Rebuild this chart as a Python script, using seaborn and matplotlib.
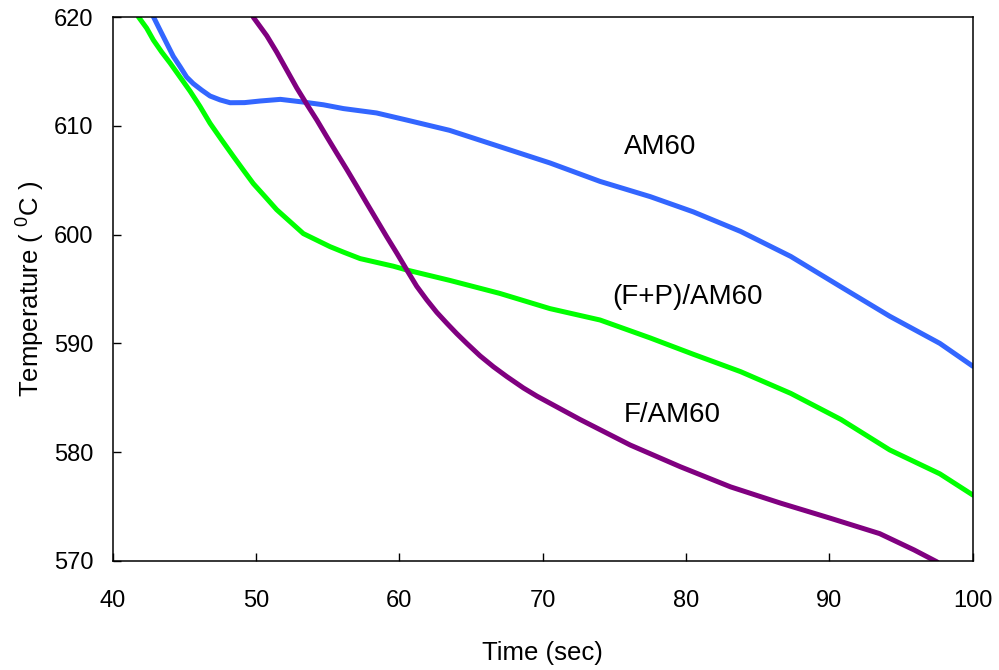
import seaborn as sns
import matplotlib.pyplot as plt
import pandas as pd

# AM60 curve (time in s, temperature in C)
am60_t = [42.84, 43.3, 43.77, 44.23, 44.7, 45.16, 45.62, 46.21, 46.79, 47.49, 48.19,
          49.2, 50.3, 51.7, 53.3, 54.7, 56.1, 58.4, 60.5,
          63.5, 67.0, 70.5, 74.0, 77.5, 80.5, 83.8, 87.3, 90.8, 94.2, 97.7, 100.0]
am60_T = [620.05, 618.83, 617.6, 616.4, 615.46, 614.5, 613.9, 613.3, 612.76, 612.4, 612.14,
          612.15, 612.3, 612.45, 612.2, 611.95, 611.6, 611.2, 610.55,
          609.6, 608.1, 606.6, 604.9, 603.5, 602.1, 600.3, 598.0, 595.2, 592.5, 590.0, 587.9]

# (F+P)/AM60 curve
fp_t = [41.79, 42.37, 42.84, 43.42, 44.0, 44.7, 45.4, 46.09, 46.79, 47.61, 48.42, 49.11,
        49.81, 50.63, 51.44, 52.37, 53.3, 54.23, 55.16, 56.09, 57.26, 58.42, 59.58, 60.52,
        63.5, 67.0, 70.5, 74.0, 77.5, 80.5, 83.8, 87.3, 90.8, 94.2, 97.7, 100.0]
fp_T = [620.05, 619.0, 617.9, 616.8, 615.8, 614.5, 613.2, 611.8, 610.25, 608.7, 607.2, 605.95,
        604.7, 603.5, 602.3, 601.2, 600.1, 599.5, 598.9, 598.4, 597.8, 597.45, 597.1, 596.75,
        595.8, 594.6, 593.2, 592.15, 590.5, 589.0, 587.4, 585.4, 583.0, 580.2, 578.0, 576.05]

# F/AM60 curve
f_t = [49.81, 50.75, 51.44, 52.14, 52.84, 53.54, 54.24, 54.94, 55.63, 56.33, 57.03, 57.72,
       58.42, 59.12, 59.82, 60.52, 61.21, 61.91, 62.61, 63.31, 64.0, 64.7, 65.63, 66.56,
       67.49, 68.65, 69.59, 72.6, 76.1, 79.6, 83.1, 86.6, 90.1, 93.5, 95.9, 97.5]
f_T = [620.0, 618.3, 616.8, 615.15, 613.5, 612.0, 610.55, 609.0, 607.5, 606.0, 604.45, 602.9,
       601.35, 599.8, 598.3, 596.75, 595.25, 594.0, 592.85, 591.85, 590.9, 590.0, 588.85, 587.85,
       586.95, 585.9, 585.15, 583.0, 580.65, 578.65, 576.8, 575.3, 573.9, 572.5, 571.0, 569.9]

labels = ["AM60", "(F+P)/AM60", "F/AM60"]
label_x = [78.2, 80.1, 79.0]
label_y = [608.1, 594.3, 583.4]

sns.set_style("ticks")
plt.rcParams['font.family'] = ['Liberation Sans', 'DejaVu Sans']
plt.rcParams['mathtext.fontset'] = 'custom'
plt.rcParams['mathtext.rm'] = 'Liberation Sans'
plt.rcParams['mathtext.it'] = 'Liberation Sans'
for k in ['text.color', 'axes.labelcolor', 'xtick.color', 'ytick.color']:
    plt.rcParams[k] = 'black'

fig = plt.figure(figsize=(9.99, 6.70), dpi=100)
ax = fig.add_axes([0.1128, 0.163, 0.861, 0.8112])

am60 = pd.DataFrame({'t': am60_t, 'T': am60_T})
fp = pd.DataFrame({'t': fp_t, 'T': fp_T})
fam = pd.DataFrame({'t': f_t, 'T': f_T})

sns.lineplot(data=am60, x='t', y='T', color='#3366ff', lw=3.6, ax=ax, sort=False)
sns.lineplot(data=fp, x='t', y='T', color='#00ff00', lw=3.6, ax=ax, sort=False)
sns.lineplot(data=fam, x='t', y='T', color='#800080', lw=3.6, ax=ax, sort=False)

for lab, lx, ly in zip(labels, label_x, label_y):
    ax.text(lx, ly, lab, fontsize=20, ha='center', va='center', color='black')

ax.set_xlim(40, 100)
ax.set_ylim(570, 620)
ax.set_xticks(range(40, 101, 10))
ax.set_yticks(range(570, 621, 10))
ax.tick_params(axis='x', direction='in', length=6, width=1, pad=21, labelsize=17)
ax.tick_params(axis='y', direction='in', length=6, width=1, pad=14, labelsize=17)
for s in ax.spines.values():
    s.set_visible(True)
    s.set_color('black')
    s.set_linewidth(1.1)

ax.set_xlabel('Time (sec)', fontsize=18.5, labelpad=21)
ax.set_ylabel(r'Temperature ( $^{0}$C )', fontsize=18.5, labelpad=5)

fig.savefig('out.png', dpi=100)
